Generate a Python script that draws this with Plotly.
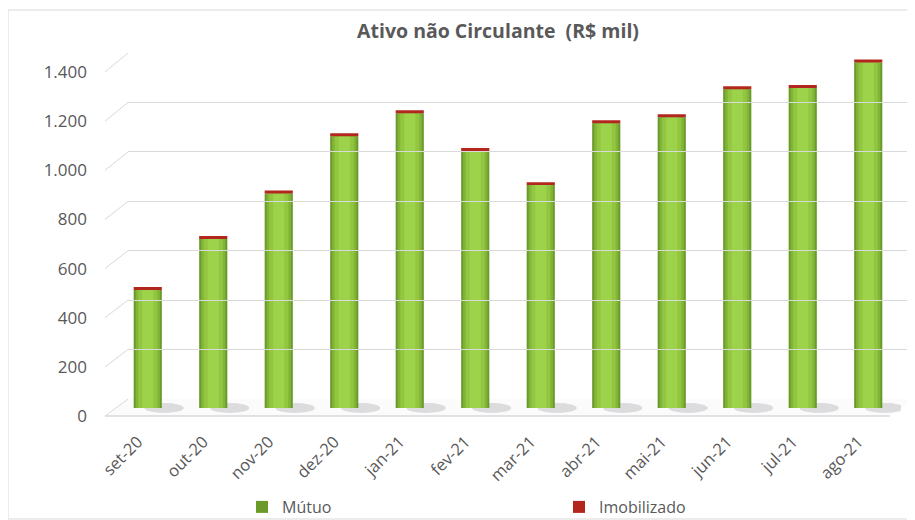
import plotly.graph_objects as go

# ---- data ----
categories = ["set-20", "out-20", "nov-20", "dez-20", "jan-21", "fev-21",
              "mar-21", "abr-21", "mai-21", "jun-21", "jul-21", "ago-21"]
mutuo = [478, 684, 868, 1100, 1193, 1040, 902, 1152, 1177, 1290, 1295, 1398]
imobilizado = [12, 12, 12, 12, 12, 12, 12, 12, 12, 12, 12, 12]
tick_vals = [0, 200, 400, 600, 800, 1000, 1200, 1400]
tick_text = ["0", "200", "400", "600", "800", "1.000", "1.200", "1.400"]

W, H = 915, 520
OFF = 8  # page body margin offset of the rendered figure
FONT = "Open Sans"
GREY = "#595959"
LINE = "#d9d9d9"

def px_x(p):
    return (p - OFF) / W

def px_y(p):
    return 1 - (p - OFF) / H

# domains (figure margins are zero, so paper = whole figure)
x_dom = [px_x(115), px_x(901)]            # bars (middle depth)
x_back = [px_x(128), px_x(913)]           # back wall
x_front = [px_x(105), px_x(891)]          # front plane (labels)
y_bar_range = [-50, 1500]
y_bar_dom = [px_y(420.4), px_y(37.3)]
y_back_dom = [px_y(399), px_y(53)]
y_front_dom = [px_y(416), px_y(72)]

fig = go.Figure()

# cylinder shading layers for Mútuo
layers = [(0.43, "#6a9a2a", True), (0.37, "#82b437", False),
          (0.29, "#92c641", False), (0.17, "#9dd24b", False)]
for w, c, leg in layers:
    fig.add_trace(go.Bar(x=categories, y=mutuo, width=w, name="Mútuo",
                         marker=dict(color=c, line=dict(width=0)),
                         showlegend=leg, legendgroup="m", legend="legend",
                         hoverinfo="skip" if not leg else None))
fig.add_trace(go.Bar(x=categories, y=imobilizado, base=mutuo, width=0.43,
                     name="Imobilizado", legend="legend2",
                     marker=dict(color="#b3261e", line=dict(width=0))))

# invisible traces to carry the back-wall grid and front label axes
fig.add_trace(go.Scatter(x=categories, y=mutuo, xaxis="x2", yaxis="y2",
                         mode="none", showlegend=False, hoverinfo="skip"))
fig.add_trace(go.Scatter(x=categories, y=mutuo, xaxis="x3", yaxis="y3",
                         mode="none", showlegend=False, hoverinfo="skip"))

shapes = []
# outer border
shapes.append(dict(type="rect", xref="paper", yref="paper",
                   x0=px_x(8), x1=px_x(913), y0=px_y(519), y1=px_y(10),
                   line=dict(color=LINE, width=1), fillcolor="rgba(0,0,0,0)",
                   layer="below"))
# floor
shapes.append(dict(type="path", xref="paper", yref="paper",
                   path=f"M {px_x(105)} {px_y(416)} L {px_x(890)} {px_y(416)} "
                        f"L {px_x(913)} {px_y(399)} L {px_x(128)} {px_y(399)} Z",
                   fillcolor="#fbfbfb", line=dict(width=0), layer="below"))
shapes.append(dict(type="line", xref="paper", yref="paper",
                   x0=px_x(105), x1=px_x(890), y0=px_y(416), y1=px_y(416),
                   line=dict(color=LINE, width=1.5), layer="below"))
# side-wall lines, from each tick value on the front scale to the back scale
for v in tick_vals:
    yb = y_back_dom[0] + (y_back_dom[1] - y_back_dom[0]) * v / 1400
    yf = y_front_dom[0] + (y_front_dom[1] - y_front_dom[0]) * v / 1400
    shapes.append(dict(type="line", xref="paper", yref="paper",
                       x0=px_x(105), x1=px_x(128), y0=yf, y1=yb,
                       line=dict(color=LINE, width=1), layer="below"))
# floor shadows behind each cylinder
for i, _ in enumerate(categories):
    shapes.append(dict(type="circle", xref="x", yref="paper",
                       x0=i - 0.05, x1=i + 0.55, y0=px_y(413), y1=px_y(403),
                       fillcolor="rgba(110,110,120,0.22)", line=dict(width=0),
                       layer="below"))

legend_common = dict(orientation="h", xanchor="left", yanchor="middle",
                     y=px_y(507), font=dict(size=16, color=GREY),
                     itemwidth=30, bgcolor="rgba(0,0,0,0)")

fig.update_layout(
    width=W, height=H,
    margin=dict(l=0, r=0, t=0, b=0, autoexpand=False),
    paper_bgcolor="white", plot_bgcolor="rgba(0,0,0,0)",
    barmode="overlay",
    font=dict(family=FONT, color=GREY, size=16),
    title=dict(text="<b>Ativo não Circulante  (R$ mil)</b>", x=px_x(498), y=px_y(31),
               xanchor="center", yanchor="middle",
               font=dict(family=FONT, size=19.5, color=GREY)),
    xaxis=dict(domain=x_dom, anchor="y", range=[-0.5, 11.5], visible=False),
    yaxis=dict(domain=y_bar_dom, anchor="x", range=y_bar_range, visible=False),
    xaxis2=dict(domain=x_back, anchor="y2", range=[-0.5, 11.5], visible=False),
    yaxis2=dict(domain=y_back_dom, anchor="x2", range=[0, 1400],
                tickvals=tick_vals, showticklabels=False, showgrid=True,
                gridcolor=LINE, gridwidth=1, zeroline=False, showline=False),
    xaxis3=dict(domain=x_front, anchor="y3", range=[-0.5, 11.5], showgrid=False,
                showline=False, zeroline=False, ticks="", tickangle=-45,
                ticklabelstandoff=12, tickfont=dict(size=16.5, color=GREY)),
    yaxis3=dict(domain=y_front_dom, anchor="x3", range=[0, 1400],
                tickvals=tick_vals, ticktext=tick_text, showgrid=False,
                zeroline=False, showline=False, ticks="",
                ticklabelstandoff=17, tickfont=dict(size=17, color=GREY)),
    shapes=shapes,
    showlegend=True,
    legend=dict(x=px_x(242), **legend_common),
    legend2=dict(x=px_x(559), **legend_common),
    bargap=0.5,
)

fig.write_html("out.html")
